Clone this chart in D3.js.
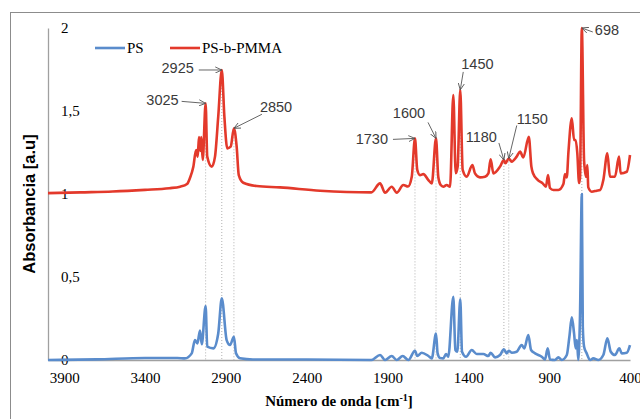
<!DOCTYPE html>
<html>
<head>
<meta charset="utf-8">
<script src="https://cdn.jsdelivr.net/npm/d3@7"></script>
<style>
  body { margin: 0; background: #fff; }
  svg { display: block; }
</style>
</head>
<body>
<div id="chart"></div>
<script>
// FTIR spectra, [wavenumber cm-1, absorbance]
var psSpectrum = [
    [4000, 0], [3700, 0.004], [3400, 0.012], [3200, 0.012], [3153, 0.01], [3111, 0.04], [3091, 0.12],
    [3076, 0.1], [3060, 0.177], [3049, 0.095], [3025, 0.325], [3015, 0.08], [2977, 0.07], [2947, 0.16],
    [2925, 0.372], [2895, 0.12], [2874, 0.09], [2850, 0.14], [2837, 0.04], [2812, 0.01], [2732, 0.003],
    [2400, 0.003], [2000, 0], [1946, 0.03], [1915, 0], [1874, 0.024], [1843, 0], [1806, 0.024], [1771, 0],
    [1730, 0.056], [1716, 0.024], [1688, 0.044], [1647, 0.024], [1626, 0.01], [1600, 0.16], [1590, 0.04],
    [1575, 0.012], [1555, 0.01], [1538, 0.036], [1524, 0.02], [1493, 0.38], [1480, 0.06], [1468, 0.05],
    [1450, 0.365], [1439, 0.05], [1414, 0.02], [1379, 0.06], [1348, 0.036], [1307, 0.036], [1276, 0.024],
    [1262, 0.044], [1235, 0.016], [1204, 0.03], [1180, 0.064], [1162, 0.04], [1150, 0.056], [1132, 0.044],
    [1101, 0.05], [1070, 0.09], [1054, 0.07], [1029, 0.15], [1012, 0.06], [987, 0.04], [946, 0.02],
    [926, 0.003], [909, 0.07], [895, 0.003], [864, 0], [843, 0.016], [822, 0], [791, 0.03], [775, 0.14],
    [760, 0.257], [746, 0.16], [736, 0.07], [728, 0.12], [720, 0], [709, 0.28], [698, 1.0], [692, 0.2],
    [684, 0.08], [668, 0.04], [647, 0], [627, 0.01], [596, 0], [565, 0.03], [540, 0.13], [519, 0.05],
    [493, 0.03], [466, 0.07], [451, 0.04], [420, 0.044], [400, 0.09]
];

var pmmaSpectrum = [
    [4000, 1.005], [3800, 1.01], [3600, 1.015], [3400, 1.025], [3250, 1.035], [3183, 1.044], [3140, 1.06],
    [3122, 1.096], [3101, 1.164], [3084, 1.265], [3074, 1.225], [3066, 1.343], [3058, 1.26], [3052, 1.343],
    [3043, 1.205], [3025, 1.546], [3015, 1.225], [2987, 1.164], [2967, 1.225], [2947, 1.466], [2925, 1.747],
    [2909, 1.466], [2891, 1.275], [2870, 1.285], [2850, 1.396], [2833, 1.285], [2820, 1.114], [2792, 1.068],
    [2709, 1.048], [2565, 1.04], [2317, 1.02], [2000, 1.01], [1946, 1.064], [1915, 1.008], [1874, 1.044],
    [1843, 1.008], [1802, 1.054], [1773, 1.045], [1750, 1.104], [1730, 1.335], [1716, 1.145], [1699, 1.114],
    [1678, 1.12], [1647, 1.084], [1626, 1.064], [1600, 1.335], [1586, 1.104], [1571, 1.054], [1555, 1.044],
    [1534, 1.054], [1513, 1.044], [1493, 1.596], [1478, 1.125], [1466, 1.165], [1450, 1.627], [1435, 1.145],
    [1410, 1.104], [1375, 1.175], [1359, 1.124], [1328, 1.1], [1297, 1.104], [1276, 1.124], [1262, 1.209],
    [1245, 1.124], [1204, 1.165], [1180, 1.205], [1171, 1.185], [1150, 1.214], [1132, 1.195], [1101, 1.225],
    [1080, 1.255], [1060, 1.22], [1026, 1.345], [1010, 1.165], [1000, 1.125], [970, 1.084], [940, 1.064],
    [920, 1.044], [907, 1.114], [895, 1.036], [874, 1.024], [843, 1.024], [812, 1.06], [802, 1.12],
    [791, 1.1], [781, 1.25], [760, 1.456], [746, 1.325], [736, 1.325], [726, 1.247], [715, 1.066],
    [709, 1.1], [698, 2.0], [684, 1.2], [672, 1.104], [664, 1.175], [658, 1.04], [637, 1.014], [606, 1.02],
    [585, 1.024], [565, 1.084], [540, 1.245], [524, 1.104], [493, 1.104], [468, 1.225], [458, 1.124],
    [420, 1.134], [400, 1.235]
];

var seriesNames = ["PS", "PS-b-PMMA"];
var seriesColors = ["#5a8ccc", "#e3392b"];

var peakLabels = [3025, 2925, 2850, 1730, 1600, 1450, 1180, 1150, 698];

var xTicks = [3900, 3400, 2900, 2400, 1900, 1400, 900, 400];
var yTicks = [0, 0.5, 1, 1.5, 2];

// label placement relative to the arrow tip, in px: arrow start (ax, ay), text (tx, ty, anchor)
var labelLayout = {
    3025: { ax: -24, ay: -2, tx: -27, ty: -3, anchor: "end" },
    2925: { ax: -23, ay: 0, tx: -28, ty: -2, anchor: "end" },
    2850: { ax: 28, ay: -14, tx: 26, ty: -21, anchor: "start" },
    1730: { ax: -22, ay: 1, tx: -27, ty: 1, anchor: "end" },
    1600: { ax: -8, ay: -16, tx: -27, ty: -25, anchor: "middle" },
    1450: { ax: 3, ay: -18, tx: 1, ty: -26, anchor: "start" },
    1180: { ax: -5, ay: -17, tx: -7, ty: -23, anchor: "end" },
    1150: { ax: 8, ay: -33, tx: 8, ty: -40, anchor: "start" },
    698: { ax: 11, ay: 4, tx: 13, ty: 2, anchor: "start" }
};

var W = 640, H = 419;
var svg = d3.select("#chart").append("svg").attr("width", W).attr("height", H);

var x = d3.scaleLinear().domain([4000, 400]).range([48, 630]);
var y = d3.scaleLinear().domain([0, 2]).range([360, 28]);

function valueAt(series, wn) {
    for (var i = 0; i < series.length - 1; i++) {
        var a = series[i], b = series[i + 1];
        if (wn <= a[0] && wn >= b[0]) {
            var t = (a[0] - wn) / (a[0] - b[0]);
            return a[1] + t * (b[1] - a[1]);
        }
    }
    return series[series.length - 1][1];
}

// outer frame (cut off at right and bottom)
svg.append("rect")
    .attr("x", 10.5).attr("y", 12.5)
    .attr("width", W).attr("height", H)
    .attr("fill", "none").attr("stroke", "#8c8c8c").attr("stroke-width", 1);

svg.append("defs").append("marker")
    .attr("id", "arrow")
    .attr("viewBox", "0 0 8 8")
    .attr("refX", 7.5).attr("refY", 4)
    .attr("markerWidth", 7).attr("markerHeight", 7)
    .attr("markerUnits", "userSpaceOnUse")
    .attr("orient", "auto")
    .append("path")
    .attr("d", "M0,0.5 L7.5,4 L0,7.5")
    .attr("fill", "none").attr("stroke", "#555").attr("stroke-width", 1);

// dotted guides under the labelled peaks
svg.append("g").selectAll("line")
    .data(peakLabels)
    .enter().append("line")
    .attr("x1", function (d) { return x(d); })
    .attr("x2", function (d) { return x(d); })
    .attr("y1", function (d) { return y(valueAt(pmmaSpectrum, d)); })
    .attr("y2", y(0))
    .attr("stroke", "#b0b0b0")
    .attr("stroke-width", 1)
    .attr("stroke-dasharray", "1,2");

// axes
var xAxis = svg.append("g")
    .attr("transform", "translate(0," + y(0) + ")")
    .call(d3.axisBottom(x).tickValues(xTicks).tickSize(0).tickPadding(12).tickFormat(d3.format("d")));
xAxis.select(".domain").attr("stroke", "#a0a0a0").attr("stroke-width", 1.3);
xAxis.selectAll("text")
    .attr("font-family", "'Liberation Serif', 'Times New Roman', serif")
    .attr("font-size", 15).attr("fill", "#000");

var yAxis = svg.append("g")
    .attr("transform", "translate(" + x(4000) + ",0)")
    .call(d3.axisRight(y).tickValues(yTicks).tickSize(0).tickPadding(13)
        .tickFormat(function (d) { return String(d).replace(".", ","); }));
yAxis.select(".domain").attr("stroke", "#a0a0a0").attr("stroke-width", 1.3);
yAxis.selectAll("text")
    .attr("font-family", "'Liberation Serif', 'Times New Roman', serif")
    .attr("font-size", 15).attr("fill", "#000");

// spectra
var line = d3.line()
    .x(function (d) { return x(d[0]); })
    .y(function (d) { return y(d[1]); })
    .curve(d3.curveMonotoneX);

[psSpectrum, pmmaSpectrum].forEach(function (s, i) {
    svg.append("path")
        .datum(s)
        .attr("d", line)
        .attr("fill", "none")
        .attr("stroke", seriesColors[i])
        .attr("stroke-width", 2.6)
        .attr("stroke-linejoin", "round");
});

// peak labels with arrows
var ann = svg.append("g");
peakLabels.forEach(function (wn) {
    var L = labelLayout[wn];
    var tx = x(wn), ty = y(valueAt(pmmaSpectrum, wn));
    ann.append("line")
        .attr("x1", tx + L.ax).attr("y1", ty + L.ay)
        .attr("x2", tx).attr("y2", ty)
        .attr("stroke", "#555").attr("stroke-width", 0.9)
        .attr("marker-end", "url(#arrow)");
    ann.append("text")
        .attr("x", tx + L.tx).attr("y", ty + L.ty)
        .attr("dy", "0.35em")
        .attr("text-anchor", L.anchor)
        .attr("font-family", "'Liberation Sans', Arial, sans-serif")
        .attr("font-size", 14.5)
        .attr("fill", "#3a3a3a")
        .text(wn);
});

// legend
var legend = svg.append("g").attr("transform", "translate(95,48)");
var legendX = [0, 75];
seriesNames.forEach(function (name, i) {
    var g = legend.append("g").attr("transform", "translate(" + legendX[i] + ",0)");
    g.append("line").attr("x1", 0).attr("x2", 30).attr("y1", 0).attr("y2", 0)
        .attr("stroke", seriesColors[i]).attr("stroke-width", 2.6);
    g.append("text").attr("x", 32).attr("y", 0).attr("dy", "0.35em")
        .attr("font-family", "'Liberation Serif', 'Times New Roman', serif")
        .attr("font-size", 15).attr("fill", "#000")
        .text(name);
});

// axis titles
var xt = svg.append("text")
    .attr("x", 339).attr("y", 406)
    .attr("text-anchor", "middle")
    .attr("font-family", "'Liberation Serif', 'Times New Roman', serif")
    .attr("font-size", 15).attr("font-weight", "bold").attr("fill", "#000");
xt.append("tspan").text("Número de onda [cm");
xt.append("tspan").attr("dy", -5).attr("font-size", 10).text("-1");
xt.append("tspan").attr("dy", 5).text("]");

svg.append("text")
    .attr("transform", "translate(35,204) rotate(-90)")
    .attr("text-anchor", "middle")
    .attr("font-family", "'Liberation Sans', Arial, sans-serif")
    .attr("font-size", 16.5).attr("font-weight", "bold").attr("fill", "#000")
    .text("Absorbancia [a.u]");
</script>
</body>
</html>
